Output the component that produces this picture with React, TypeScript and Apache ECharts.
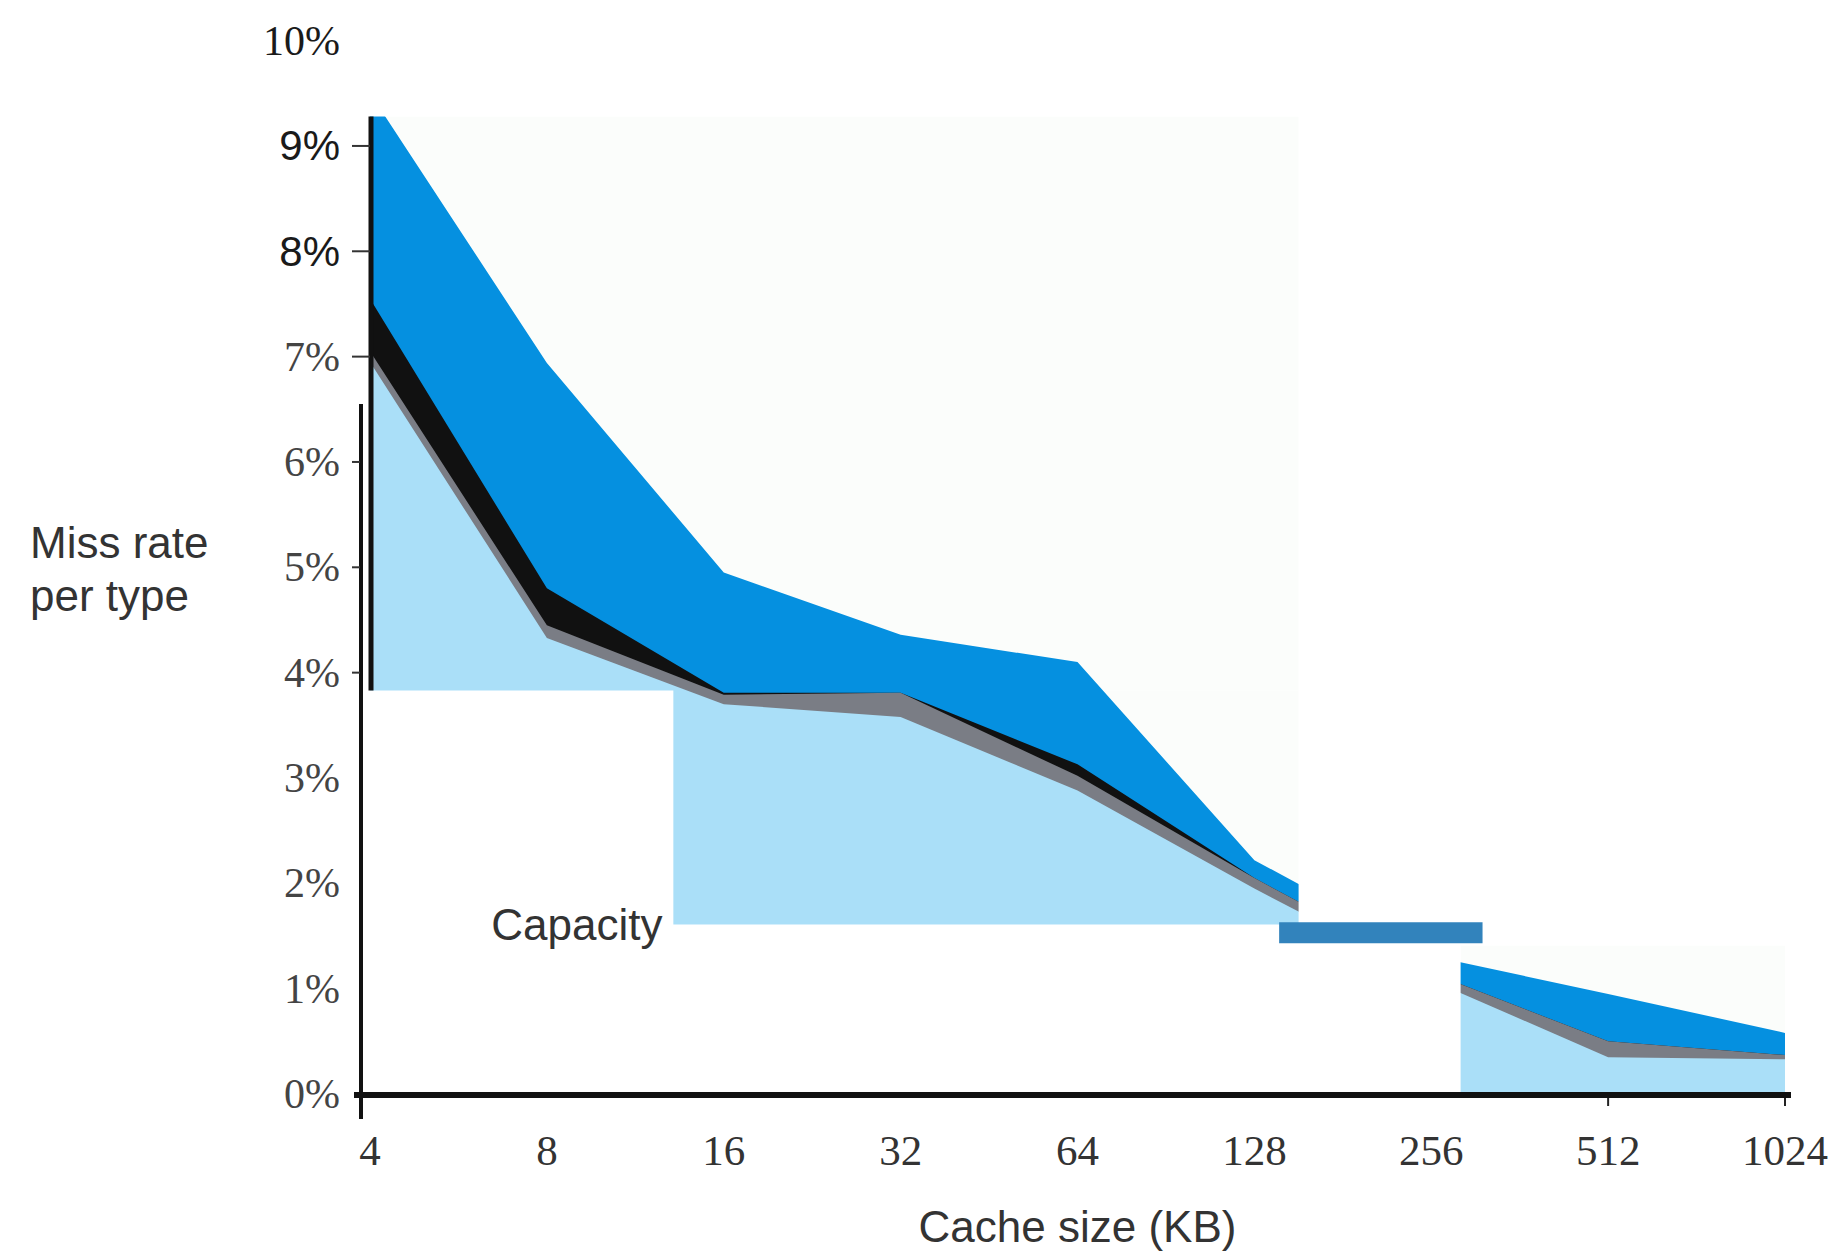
import React, { useEffect, useRef } from "react";
import * as echarts from "echarts";

// Cache sizes (KB) on a log2 axis
const cacheSizesKB = [4, 8, 16, 32, 64, 128, 256, 512, 1024];
const yTickValues = [0, 1, 2, 3, 4, 5, 6, 7, 8, 9, 10];

// Top of each stacked band (miss rate, %)
const oneWayTop = [9.5, 6.94, 4.95, 4.36, 4.1, 2.22, 1.31, 0.95, 0.58];
const twoWayTop = [7.55, 4.8, 3.81, 3.81, 3.13, 2.05, 1.15, 0.5, 0.37];
const fourWayTop = [7.05, 4.45, 3.79, 3.81, 3.02, 2.05, 1.15, 0.5, 0.37];
const capacityTop = [6.95, 4.33, 3.7, 3.58, 2.88, 1.95, 1.08, 0.35, 0.33];

// Collage regions of the reference, in data coordinates [x0, y0, x1, y1] (x = log2 KB)
const visiblePatches = [
  [2, 3.83, 7.255, 9.28],
  [3.71, 1.61, 7.255, 3.83],
  [8.166, 0, 10, 1.41],
];
const whiteMasks = [
  [2, 0, 3.715, 3.83],
  [3.705, 0, 7.26, 1.61],
  [7.25, 0, 8.166, 10],
  [2, 9.28, 7.26, 10],
  [8.16, 1.41, 10, 10],
];
const capacityBar = [7.14, 1.43, 8.29, 1.63];

const layers = [
  { name: "1-way", values: oneWayTop, color: "#0590e0" },
  { name: "2-way", values: twoWayTop, color: "#111111" },
  { name: "4-way", values: fourWayTop, color: "#7a7d85" },
  { name: "Capacity", values: capacityTop, color: "#aadff8" },
];

const toArea = (r: number[], color: string) => [
  { coord: [r[0], r[1]], itemStyle: { color, opacity: 1 } },
  { coord: [r[2], r[3]] },
];

export default function App() {
  const ref = useRef<HTMLDivElement>(null);
  useEffect(() => {
    if (!ref.current) return;
    const chart = echarts.init(ref.current, null, { renderer: "svg" });
    const areaSeries = layers.map((l) => ({
      type: "line",
      name: l.name,
      data: cacheSizesKB.map((s, i) => [Math.log2(s), l.values[i]]),
      symbol: "none",
      silent: true,
      z: 2,
      lineStyle: { width: 0 },
      areaStyle: { color: l.color, opacity: 1 },
    }));
    const markerSeries = (name: string, z: number, areas: any[]) => ({
      type: "line",
      name,
      data: [[2, 0]],
      symbol: "none",
      silent: true,
      z,
      lineStyle: { width: 0 },
      markArea: {
        silent: true,
        z,
        label: { show: false },
        emphasis: { disabled: true },
        data: areas,
      },
    });
    chart.setOption({
      animation: false,
      backgroundColor: "#ffffff",
      grid: { left: 370, right: 59, top: 40.6, bottom: 153, containLabel: false },
      xAxis: {
        type: "value",
        min: 2,
        max: 10,
        interval: 1,
        name: "Cache size (KB)",
        nameLocation: "middle",
        nameGap: 110,
        nameTextStyle: { fontFamily: "Liberation Sans", fontSize: 44, color: "#333" },
        axisLine: { show: false },
        axisTick: { show: false },
        splitLine: { show: false },
        axisLabel: {
          margin: 35,
          fontFamily: "Liberation Serif",
          fontSize: 43,
          color: "#333",
          formatter: (v: number) => String(Math.pow(2, v)),
        },
      },
      yAxis: {
        type: "value",
        min: yTickValues[0],
        max: yTickValues[yTickValues.length - 1],
        interval: 1,
        axisLine: { show: false },
        axisTick: { show: false },
        splitLine: { show: false },
        axisLabel: {
          margin: 30,
          fontFamily: "Liberation Serif",
          fontSize: 42,
          color: "#444",
          formatter: (v: number) =>
            v === 8 || v === 9 ? `{s|${v}%}` : v === 10 ? `{t|${v}%}` : `${v}%`,
          rich: {
            s: { fontFamily: "Liberation Sans", fontSize: 42, color: "#1a1a1a" },
            t: { fontFamily: "Liberation Serif", fontSize: 42, color: "#1a1a1a" },
          },
        },
      },
      series: [
        markerSeries("patches", 1, visiblePatches.map((r) => toArea(r, "#fbfdfb"))),
        ...areaSeries,
        markerSeries("masks", 10, whiteMasks.map((r) => toArea(r, "#ffffff"))),
        markerSeries("bar", 12, [toArea(capacityBar, "#3283bc")]),
      ],
    });

    const P = (x: number, y: number) =>
      chart.convertToPixel({ gridIndex: 0 }, [x, y]) as number[];
    const x0 = P(2, 0)[0];
    const yZero = P(2, 0)[1];
    const stroke = (shape: any, lineWidth: number, color = "#111") => ({
      type: "line",
      z: 100,
      silent: true,
      shape,
      style: { stroke: color, lineWidth },
    });
    const g: any[] = [];
    // upper vertical axis segment
    g.push(stroke({ x1: x0 + 1, y1: P(2, 9.28)[1], x2: x0 + 1, y2: P(2, 3.83)[1] }, 5));
    // lower vertical axis segment
    g.push(stroke({ x1: x0 - 9, y1: P(2, 6.55)[1], x2: x0 - 9, y2: yZero + 25 }, 4));
    // horizontal axis
    g.push(stroke({ x1: x0 - 16, y1: yZero + 1, x2: P(10, 0)[0] + 6, y2: yZero + 1 }, 6));
    // y ticks
    yTickValues
      .filter((v) => v >= 4 && v <= 9)
      .forEach((v) => {
        const y = P(2, v)[1];
        g.push(stroke({ x1: x0 - 18, y1: y, x2: v >= 7 ? x0 : x0 - 10, y2: y }, 2, "#333"));
      });
    // small x ticks
    [9, 10].forEach((v) => {
      const x = P(v, 0)[0];
      g.push(stroke({ x1: x, y1: yZero + 4, x2: x, y2: yZero + 12 }, 2, "#222"));
    });
    // labels
    const cap = P(3.71, 1.61);
    g.push({
      type: "text",
      z: 100,
      silent: true,
      x: cap[0] - 10,
      y: cap[1],
      style: {
        text: "Capacity",
        fontFamily: "Liberation Sans",
        fontSize: 44,
        fill: "#333",
        align: "right",
        verticalAlign: "middle",
      },
    });
    g.push({
      type: "text",
      z: 100,
      silent: true,
      x: 30,
      y: 516,
      style: {
        text: "Miss rate\nper type",
        fontFamily: "Liberation Sans",
        fontSize: 44,
        lineHeight: 53,
        fill: "#333",
        align: "left",
        verticalAlign: "top",
      },
    });
    chart.setOption({ graphic: g });
    return () => chart.dispose();
  }, []);
  return (
    <div
      ref={ref}
      style={{ position: "fixed", left: 0, top: 0, width: "1844px", height: "1253px", background: "#fff" }}
    />
  );
}
